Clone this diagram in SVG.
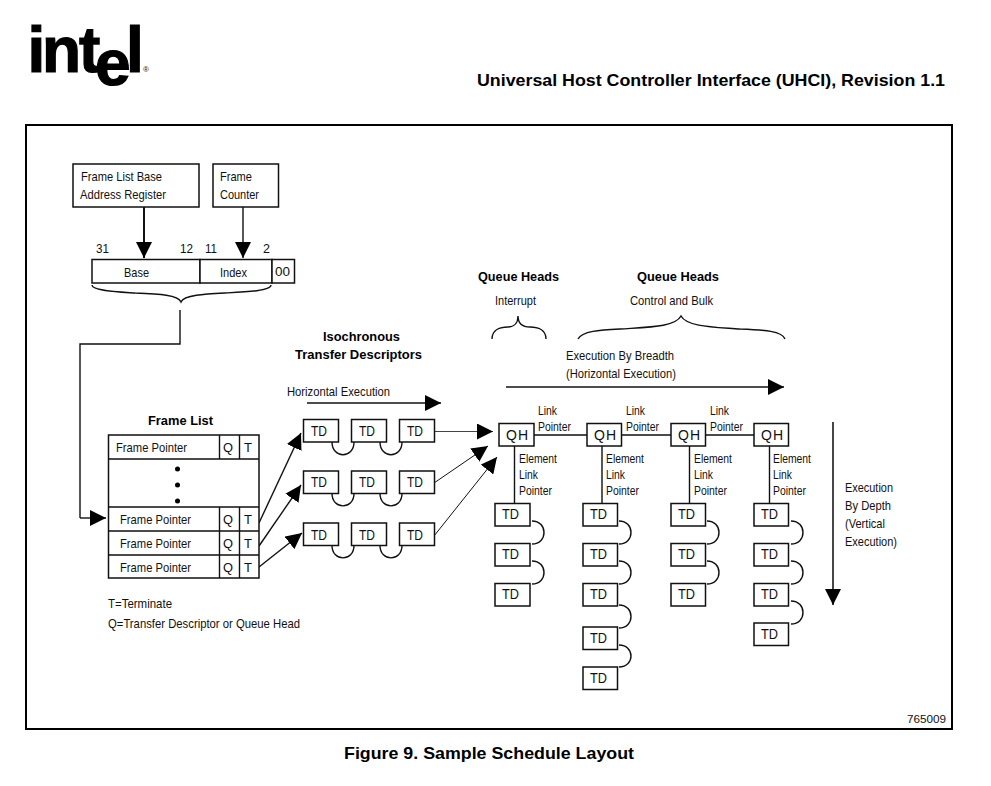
<svg xmlns="http://www.w3.org/2000/svg" width="991" height="786" viewBox="0 0 991 786">
<style>
text{font-family:"Liberation Sans",Arial,sans-serif;font-size:13.5px;fill:#111}
.b{font-weight:bold;font-size:13.5px;fill:#000}
.td{font-size:14px}
.h{font-weight:bold;font-size:16.5px;fill:#000}
.logo{font-weight:bold;font-size:64px;fill:#000;stroke:#000;stroke-width:1.2}
rect{fill:#fff;stroke:#111;stroke-width:1.5}
path,line{fill:none;stroke:#111;stroke-width:1.4}
.arr{marker-end:url(#head)}
</style>
<defs>
<marker id="head" markerUnits="userSpaceOnUse" markerWidth="16" markerHeight="16" viewBox="0 0 16 16" refX="16" refY="8" orient="auto"><polygon points="0,0 16,8 0,16" fill="#000"/></marker>
</defs>
<rect width="991" height="786" style="fill:#fff;stroke:none"/>
<g id="logo">
<text class="logo" x="27.500 42 79 95 126" y="72 72 72 85 72">intel</text>
<text x="143" y="72" style="font-size:8px">®</text>
</g>
<text class="h" x="477" y="86" textLength="468" lengthAdjust="spacingAndGlyphs">Universal Host Controller Interface (UHCI), Revision 1.1</text>
<rect id="frame" x="26" y="125" width="926" height="604" style="fill:none;stroke:#000;stroke-width:2"/>
<text class="h" x="344" y="759" textLength="290" lengthAdjust="spacingAndGlyphs">Figure 9. Sample Schedule Layout</text>

<g id="connectors">
<path class="arr" style="stroke-width:2" d="M144 207V258"/>
<path class="arr" d="M243 207V258"/>
<path d="M180 310V344H80V518"/>
<path class="arr" d="M80 518H106"/>
<path d="M92 285C92 291 120 292 135 293C160 294 178 295 181 302C184 295 205 294 225 293C245 292 271 291 271 285"/>
<path d="M492 339C492 330 500 327 508 327C514 327 518 323 518 316C518 323 522 327 530 327C538 327 546 330 546 339"/>
<path d="M578 339C582 331 600 330 620 329C650 327 675 327 681 316C687 327 715 327 740 329C765 330 782 331 785 339"/>
<path class="arr" style="stroke-width:1.600" d="M307 403H441"/>
<path class="arr" style="stroke-width:1.600" d="M506 387H784"/>
<path class="arr" style="stroke-width:1.800;stroke:#333" d="M833 422V605"/>
<path class="arr" d="M259 523L301 433"/>
<path class="arr" d="M259 546L301 485"/>
<path class="arr" d="M259 567L302 533"/>
<path class="arr" style="stroke-width:1;stroke:#444" d="M434 431.500H493"/>
<path class="arr" style="stroke-width:1" d="M434 483L488 446"/>
<path class="arr" style="stroke-width:1" d="M434 536L497 457"/>
<path d="M332 442C332 459 354 459 354 442M380 442C380 459 402 459 402 442M332 493.500C332 510 354 510 354 493.500M380 493.500C380 510 402 510 402 493.500M332 545.500C332 562 354 562 354 545.500M380 545.500C380 562 402 562 402 545.500"/>
<path d="M534 435H587M621 435H671M705 435H754"/>
<path d="M514.500 446V504M602 446V504M689.500 446V504M769.500 446V504"/>
<path d="M532 521C548 521 548 544 532 544M532 561C548 561 548 584 532 584"/>
<path d="M619 521C635 521 635 544 619 544M619 561C635 561 635 584 619 584M619 605C635 605 635 628 619 628M619 645C635 645 635 667 619 667"/>
<path d="M707 521C723 521 723 544 707 544M707 561C723 561 723 584 707 584"/>
<path d="M791 521C807 521 807 544 791 544M791 561C807 561 807 584 791 584M791 601C807 601 807 624 791 624"/>
</g>

<g id="base-register"><rect x="73" y="164" width="126" height="43"/><text x="81" y="181" textLength="81" lengthAdjust="spacingAndGlyphs">Frame List Base</text><text x="80" y="199" textLength="86" lengthAdjust="spacingAndGlyphs">Address Register</text></g>
<g id="frame-counter"><rect x="213" y="164" width="65.500" height="43"/><text x="220" y="181" textLength="32" lengthAdjust="spacingAndGlyphs">Frame</text><text x="220" y="199" textLength="39" lengthAdjust="spacingAndGlyphs">Counter</text></g>
<g id="register">
<rect x="92" y="259.500" width="108" height="23.500"/><rect x="200" y="259.500" width="72" height="23.500"/><rect x="272" y="259.500" width="22.500" height="23.500"/>
<text x="96" y="253" textLength="13" lengthAdjust="spacingAndGlyphs">31</text><text x="180" y="253" textLength="13" lengthAdjust="spacingAndGlyphs">12</text><text x="205" y="253" textLength="12" lengthAdjust="spacingAndGlyphs">11</text><text x="263" y="253" textLength="7" lengthAdjust="spacingAndGlyphs">2</text>
<text x="124" y="277" textLength="25" lengthAdjust="spacingAndGlyphs">Base</text><text x="220" y="277" textLength="27" lengthAdjust="spacingAndGlyphs">Index</text><text x="275" y="276" textLength="15" lengthAdjust="spacingAndGlyphs">00</text>
</g>

<g id="frame-list">
<text class="b" x="148" y="425" textLength="65" lengthAdjust="spacingAndGlyphs">Frame List</text>
<rect x="108.500" y="435" width="150.500" height="143"/>
<path d="M108.500 459H259M108.500 507H259M108.500 531H259M108.500 555H259M219.500 435V459M239.500 435V459M219.500 507V578M239.500 507V578"/>
<circle cx="177.500" cy="469" r="2.500"/><circle cx="177.500" cy="485" r="2.500"/><circle cx="177.500" cy="501" r="2.500"/>
<text x="116" y="452" textLength="71" lengthAdjust="spacingAndGlyphs">Frame Pointer</text><text x="223" y="452" textLength="10" lengthAdjust="spacingAndGlyphs">Q</text><text x="244" y="452" textLength="8" lengthAdjust="spacingAndGlyphs">T</text>
<text x="120" y="524" textLength="71" lengthAdjust="spacingAndGlyphs">Frame Pointer</text><text x="223" y="524" textLength="10" lengthAdjust="spacingAndGlyphs">Q</text><text x="244" y="524" textLength="8" lengthAdjust="spacingAndGlyphs">T</text>
<text x="120" y="548" textLength="71" lengthAdjust="spacingAndGlyphs">Frame Pointer</text><text x="223" y="548" textLength="10" lengthAdjust="spacingAndGlyphs">Q</text><text x="244" y="548" textLength="8" lengthAdjust="spacingAndGlyphs">T</text>
<text x="120" y="572" textLength="71" lengthAdjust="spacingAndGlyphs">Frame Pointer</text><text x="223" y="572" textLength="10" lengthAdjust="spacingAndGlyphs">Q</text><text x="244" y="572" textLength="8" lengthAdjust="spacingAndGlyphs">T</text>
<text x="108" y="608" textLength="64" lengthAdjust="spacingAndGlyphs">T=Terminate</text>
<text x="108" y="628" textLength="192" lengthAdjust="spacingAndGlyphs">Q=Transfer Descriptor or Queue Head</text>
</g>

<g id="iso-labels">
<text class="b" x="323" y="341" textLength="77" lengthAdjust="spacingAndGlyphs">Isochronous</text>
<text class="b" x="295" y="359" textLength="127" lengthAdjust="spacingAndGlyphs">Transfer Descriptors</text>
<text x="287" y="396" textLength="103" lengthAdjust="spacingAndGlyphs">Horizontal Execution</text>
</g>
<g id="qh-labels">
<text class="b" x="478" y="281" textLength="81" lengthAdjust="spacingAndGlyphs">Queue Heads</text>
<text x="495" y="305" textLength="41" lengthAdjust="spacingAndGlyphs">Interrupt</text>
<text class="b" x="637" y="281" textLength="82" lengthAdjust="spacingAndGlyphs">Queue Heads</text>
<text x="630" y="305" textLength="83" lengthAdjust="spacingAndGlyphs">Control and Bulk</text>
<text x="566" y="360" textLength="108" lengthAdjust="spacingAndGlyphs">Execution By Breadth</text>
<text x="566" y="378" textLength="110" lengthAdjust="spacingAndGlyphs">(Horizontal Execution)</text>
<text x="845" y="492" textLength="48" lengthAdjust="spacingAndGlyphs">Execution</text>
<text x="845" y="510" textLength="46" lengthAdjust="spacingAndGlyphs">By Depth</text>
<text x="845" y="528" textLength="40" lengthAdjust="spacingAndGlyphs">(Vertical</text>
<text x="845" y="546" textLength="52" lengthAdjust="spacingAndGlyphs">Execution)</text>
<text x="907" y="723" style="font-size:11.500px" textLength="39" lengthAdjust="spacingAndGlyphs">765009</text>
</g>

<g id="iso-td">
<g id="td-a1"><rect x="303.500" y="419.500" width="35" height="22.500"/><text class="td" x="311" y="436" textLength="16" lengthAdjust="spacingAndGlyphs">TD</text></g>
<g id="td-a2"><rect x="351.500" y="419.500" width="35" height="22.500"/><text class="td" x="359" y="436" textLength="16" lengthAdjust="spacingAndGlyphs">TD</text></g>
<g id="td-a3"><rect x="399.500" y="419.500" width="35" height="22.500"/><text class="td" x="407" y="436" textLength="16" lengthAdjust="spacingAndGlyphs">TD</text></g>
<g id="td-b1"><rect x="303.500" y="471" width="35" height="22.500"/><text class="td" x="311" y="487" textLength="16" lengthAdjust="spacingAndGlyphs">TD</text></g>
<g id="td-b2"><rect x="351.500" y="471" width="35" height="22.500"/><text class="td" x="359" y="487" textLength="16" lengthAdjust="spacingAndGlyphs">TD</text></g>
<g id="td-b3"><rect x="399.500" y="471" width="35" height="22.500"/><text class="td" x="407" y="487" textLength="16" lengthAdjust="spacingAndGlyphs">TD</text></g>
<g id="td-c1"><rect x="303.500" y="523" width="35" height="22.500"/><text class="td" x="311" y="540" textLength="16" lengthAdjust="spacingAndGlyphs">TD</text></g>
<g id="td-c2"><rect x="351.500" y="523" width="35" height="22.500"/><text class="td" x="359" y="540" textLength="16" lengthAdjust="spacingAndGlyphs">TD</text></g>
<g id="td-c3"><rect x="399.500" y="523" width="35" height="22.500"/><text class="td" x="407" y="540" textLength="16" lengthAdjust="spacingAndGlyphs">TD</text></g>
</g>

<g id="qh1"><rect x="499" y="423.500" width="35" height="22.500"/><text class="td" x="506" y="440" textLength="22">QH</text>
<text x="538" y="415" textLength="19" lengthAdjust="spacingAndGlyphs">Link</text><text x="538" y="431" textLength="33" lengthAdjust="spacingAndGlyphs">Pointer</text>
<text x="519" y="463" textLength="38" lengthAdjust="spacingAndGlyphs">Element</text><text x="519" y="479" textLength="19" lengthAdjust="spacingAndGlyphs">Link</text><text x="519" y="495" textLength="33" lengthAdjust="spacingAndGlyphs">Pointer</text></g>
<g id="qh2"><rect x="587" y="423.500" width="34.500" height="22.500"/><text class="td" x="594" y="440" textLength="22">QH</text>
<text x="626" y="415" textLength="19" lengthAdjust="spacingAndGlyphs">Link</text><text x="626" y="431" textLength="33" lengthAdjust="spacingAndGlyphs">Pointer</text>
<text x="606" y="463" textLength="38" lengthAdjust="spacingAndGlyphs">Element</text><text x="606" y="479" textLength="19" lengthAdjust="spacingAndGlyphs">Link</text><text x="606" y="495" textLength="33" lengthAdjust="spacingAndGlyphs">Pointer</text></g>
<g id="qh3"><rect x="671" y="423.500" width="34.500" height="22.500"/><text class="td" x="678" y="440" textLength="22">QH</text>
<text x="710" y="415" textLength="19" lengthAdjust="spacingAndGlyphs">Link</text><text x="710" y="431" textLength="33" lengthAdjust="spacingAndGlyphs">Pointer</text>
<text x="694" y="463" textLength="38" lengthAdjust="spacingAndGlyphs">Element</text><text x="694" y="479" textLength="19" lengthAdjust="spacingAndGlyphs">Link</text><text x="694" y="495" textLength="33" lengthAdjust="spacingAndGlyphs">Pointer</text></g>
<g id="qh4"><rect x="754" y="423.500" width="34.500" height="22.500"/><text class="td" x="761" y="440" textLength="22">QH</text>
<text x="773" y="463" textLength="38" lengthAdjust="spacingAndGlyphs">Element</text><text x="773" y="479" textLength="19" lengthAdjust="spacingAndGlyphs">Link</text><text x="773" y="495" textLength="33" lengthAdjust="spacingAndGlyphs">Pointer</text></g>

<g id="col1-td">
<g id="td-1-1"><rect x="495" y="503.500" width="35" height="22.500"/><text class="td" x="502" y="519" textLength="17" lengthAdjust="spacingAndGlyphs">TD</text></g>
<g id="td-1-2"><rect x="495" y="543.500" width="35" height="22.500"/><text class="td" x="502" y="559" textLength="17" lengthAdjust="spacingAndGlyphs">TD</text></g>
<g id="td-1-3"><rect x="495" y="583.500" width="35" height="22.500"/><text class="td" x="502" y="599" textLength="17" lengthAdjust="spacingAndGlyphs">TD</text></g>
</g>
<g id="col2-td">
<g id="td-2-1"><rect x="583" y="503.500" width="34.500" height="22.500"/><text class="td" x="590" y="519" textLength="17" lengthAdjust="spacingAndGlyphs">TD</text></g>
<g id="td-2-2"><rect x="583" y="543.500" width="34.500" height="22.500"/><text class="td" x="590" y="559" textLength="17" lengthAdjust="spacingAndGlyphs">TD</text></g>
<g id="td-2-3"><rect x="583" y="583.500" width="34.500" height="22.500"/><text class="td" x="590" y="599" textLength="17" lengthAdjust="spacingAndGlyphs">TD</text></g>
<g id="td-2-4"><rect x="583" y="627" width="34.500" height="22.500"/><text class="td" x="590" y="643" textLength="17" lengthAdjust="spacingAndGlyphs">TD</text></g>
<g id="td-2-5"><rect x="583" y="667" width="34.500" height="22.500"/><text class="td" x="590" y="683" textLength="17" lengthAdjust="spacingAndGlyphs">TD</text></g>
</g>
<g id="col3-td">
<g id="td-3-1"><rect x="671" y="503.500" width="34.500" height="22.500"/><text class="td" x="678" y="519" textLength="17" lengthAdjust="spacingAndGlyphs">TD</text></g>
<g id="td-3-2"><rect x="671" y="543.500" width="34.500" height="22.500"/><text class="td" x="678" y="559" textLength="17" lengthAdjust="spacingAndGlyphs">TD</text></g>
<g id="td-3-3"><rect x="671" y="583.500" width="34.500" height="22.500"/><text class="td" x="678" y="599" textLength="17" lengthAdjust="spacingAndGlyphs">TD</text></g>
</g>
<g id="col4-td">
<g id="td-4-1"><rect x="754" y="503.500" width="34.500" height="22.500"/><text class="td" x="761" y="519" textLength="17" lengthAdjust="spacingAndGlyphs">TD</text></g>
<g id="td-4-2"><rect x="754" y="543.500" width="34.500" height="22.500"/><text class="td" x="761" y="559" textLength="17" lengthAdjust="spacingAndGlyphs">TD</text></g>
<g id="td-4-3"><rect x="754" y="583.500" width="34.500" height="22.500"/><text class="td" x="761" y="599" textLength="17" lengthAdjust="spacingAndGlyphs">TD</text></g>
<g id="td-4-4"><rect x="754" y="623" width="34.500" height="22.500"/><text class="td" x="761" y="639" textLength="17" lengthAdjust="spacingAndGlyphs">TD</text></g>
</g>
</svg>
